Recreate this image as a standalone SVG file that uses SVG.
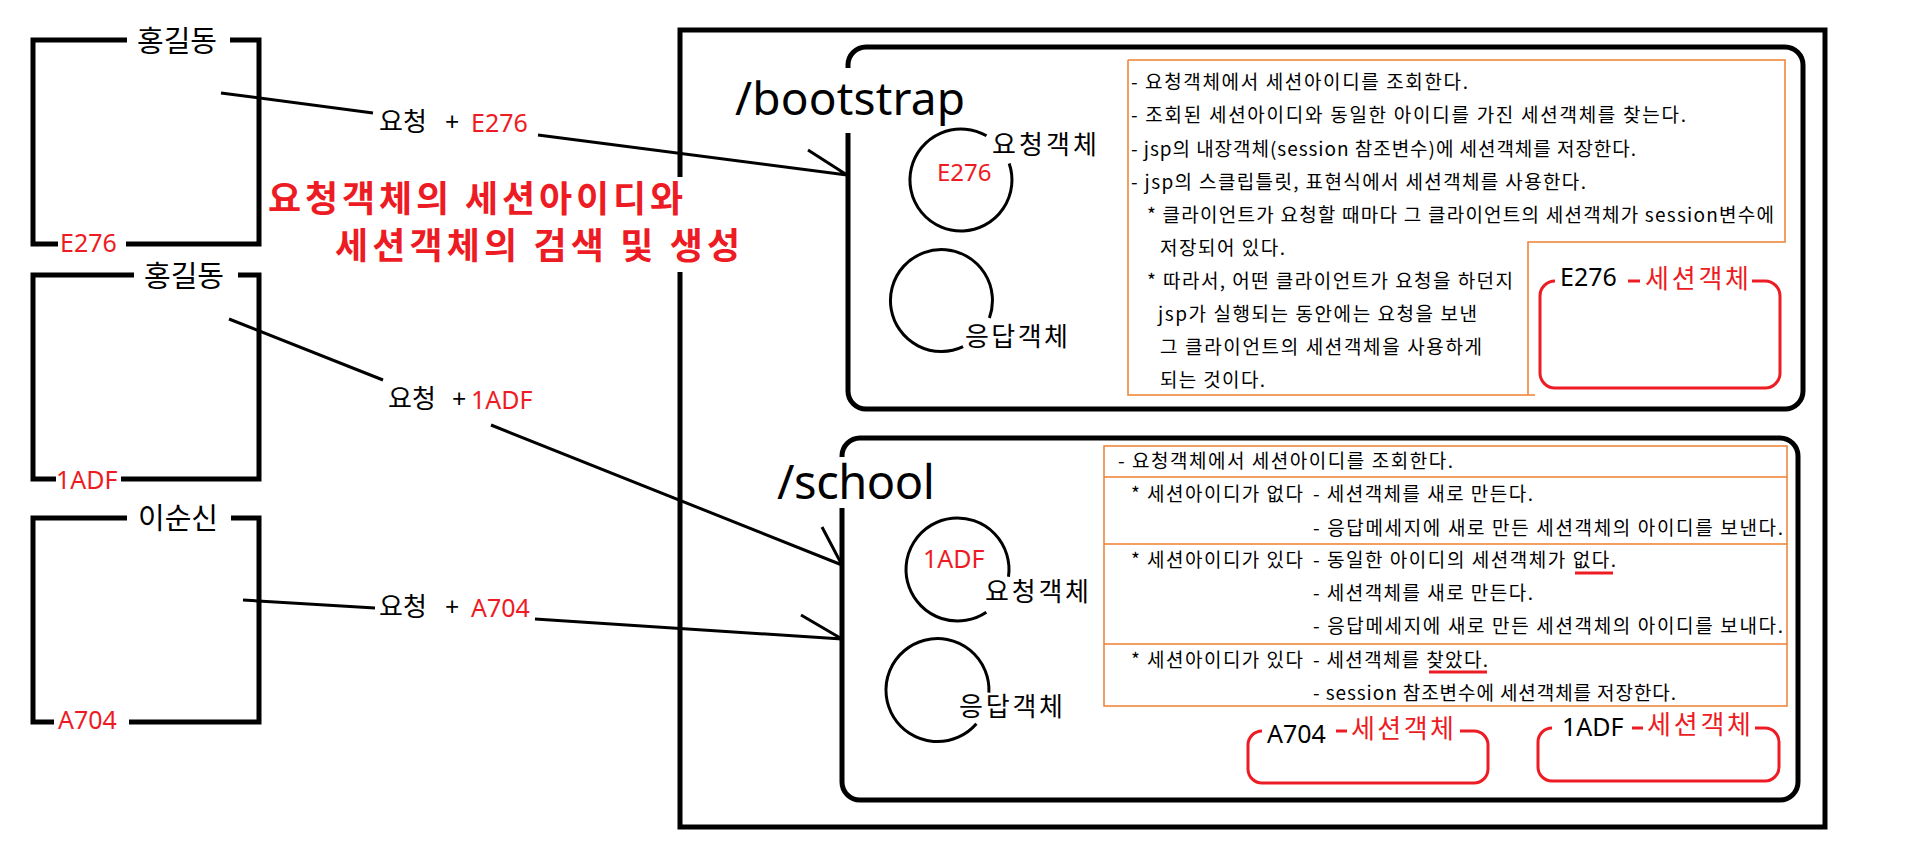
<svg xmlns="http://www.w3.org/2000/svg" width="1905" height="861" viewBox="0 0 1905 861">
<style>
.k{font-family:'Noto Sans CJK KR','Noto Sans',sans-serif;fill:#000}
.l{font-family:'Noto Sans','Noto Sans CJK KR',sans-serif;fill:#000}
.red{fill:#ED1C24}
.frame{fill:none;stroke:#000;stroke-width:5;stroke-linejoin:miter}
.conn{fill:none;stroke:#000;stroke-width:3}
.circ{fill:none;stroke:#000;stroke-width:3}
.sess{fill:none;stroke:#ED1C24;stroke-width:3}
.orange{fill:none;stroke:#F08030;stroke-width:1.5}
.t{font-size:19px}
.lab{font-size:25px}
.obj{font-size:26px}
.name{font-size:29px}
</style>
<rect width="1905" height="861" fill="#fff"/>

<g id="client1">
  <path class="frame" d="M127,40 H33 V244 H58 M126,244 H259 V40 H230"/>
  <text class="k name" x="177" y="52" text-anchor="middle">홍길동</text>
  <text class="l lab red" x="60" y="252">E276</text>
</g>
<g id="client2">
  <path class="frame" d="M134,275 H33 V479 H56 M121,479 H259 V275 H238"/>
  <text class="k name" x="184" y="287" text-anchor="middle">홍길동</text>
  <text class="l lab red" x="56" y="489">1ADF</text>
</g>
<g id="client3">
  <path class="frame" d="M127,518 H33 V722 H54 M129,722 H259 V518 H231"/>
  <text class="k name" x="178" y="529" text-anchor="middle">이순신</text>
  <text class="l lab red" x="58" y="729">A704</text>
</g>

<g id="title">
  <text class="k red" x="268" y="212" font-size="36" font-weight="bold" textLength="415">요청객체의 세션아이디와</text>
  <text class="k red" x="335" y="259" font-size="36" font-weight="bold" textLength="405">세션객체의 검색 및 생성</text>
</g>

<g id="server">
  <path class="frame" d="M680,177 V30 H1825 V827 H680 V272"/>
</g>

<g id="bootstrap">
  <path class="frame" d="M848,133 V391 A18,18 0 0 0 866,409 H1785 A18,18 0 0 0 1803,391 V65 A18,18 0 0 0 1785,47 H866 A18,18 0 0 0 848,65 V68"/>
  <text class="l" x="735" y="115" font-size="46" textLength="230">/bootstrap</text>
  <path class="circ" d="M1009.2,163.4 A51,51 0 1 1 986.5,135.8"/>
  <text class="k obj" x="992" y="154" textLength="105">요청객체</text>
  <text class="l red" x="937" y="181" font-size="24">E276</text>
  <path class="circ" d="M963.1,346.7 A51,51 0 1 1 989.4,317.9"/>
  <text class="k obj" x="965" y="346" textLength="103">응답객체</text>
  <path class="orange" d="M1128,60 H1785 V242 H1528 V395 M1128,60 V395 H1535"/>
  <g class="k t">
    <text x="1131" y="89" textLength="337">- 요청객체에서 세션아이디를 조회한다.</text>
    <text x="1131" y="122" textLength="555">- 조회된 세션아이디와 동일한 아이디를 가진 세션객체를 찾는다.</text>
    <text x="1131" y="156" textLength="505">- jsp의 내장객체(session 참조변수)에 세션객체를 저장한다.</text>
    <text x="1131" y="189" textLength="455">- jsp의 스클립틀릿, 표현식에서 세션객체를 사용한다.</text>
    <text x="1147" y="222" textLength="627">* 클라이언트가 요청할 때마다 그 클라이언트의 세션객체가 session변수에</text>
    <text x="1160" y="255" textLength="125">저장되어 있다.</text>
    <text x="1147" y="288" textLength="366">* 따라서, 어떤 클라이언트가 요청을 하던지</text>
    <text x="1158" y="321" textLength="319">jsp가 실행되는 동안에는 요청을 보낸</text>
    <text x="1160" y="354" textLength="322">그 클라이언트의 세션객체을 사용하게</text>
    <text x="1160" y="387" textLength="105">되는 것이다.</text>
  </g>
  <g id="session-E276">
    <path class="sess" d="M1555,281 A15,15 0 0 0 1540,296 V373 A15,15 0 0 0 1555,388 H1765 A15,15 0 0 0 1780,373 V296 A15,15 0 0 0 1765,281 H1752 M1628,281 H1640"/>
    <text class="l lab" x="1560" y="286">E276</text>
    <text class="k obj red" x="1645" y="288" textLength="104">세션객체</text>
  </g>
</g>

<g id="school">
  <path class="frame" d="M842,508 V782 A18,18 0 0 0 860,800 H1780 A18,18 0 0 0 1798,782 V456 A18,18 0 0 0 1780,438 H860 A18,18 0 0 0 842,456 V457"/>
  <text class="l" x="777" y="499" font-size="47" textLength="158">/school</text>
  <path class="circ" d="M986.3,612.2 A51.5,51.5 0 1 1 1008.5,576.7"/>
  <text class="l red" x="923" y="568" font-size="25">1ADF</text>
  <text class="k obj" x="985" y="601" textLength="104">요청객체</text>
  <path class="circ" d="M976.4,723.8 A51.5,51.5 0 1 1 988.9,692.7"/>
  <text class="k obj" x="959" y="716" textLength="104">응답객체</text>
  <rect class="orange" x="1104" y="446" width="683" height="260"/>
  <path class="orange" d="M1104,477 H1787 M1104,544 H1787 M1104,644 H1787"/>
  <g class="k t">
    <text x="1118" y="468" textLength="335">- 요청객체에서 세션아이디를 조회한다.</text>
    <text x="1131" y="501" textLength="172">* 세션아이디가 없다</text>
    <text x="1313" y="501" textLength="220">- 세션객체를 새로 만든다.</text>
    <text x="1313" y="535" textLength="470">- 응답메세지에 새로 만든 세션객체의 아이디를 보낸다.</text>
    <text x="1131" y="567" textLength="172">* 세션아이디가 있다</text>
    <text x="1313" y="567" textLength="303">- 동일한 아이디의 세션객체가 없다.</text>
    <text x="1313" y="600" textLength="220">- 세션객체를 새로 만든다.</text>
    <text x="1313" y="633" textLength="470">- 응답메세지에 새로 만든 세션객체의 아이디를 보내다.</text>
    <text x="1131" y="667" textLength="172">* 세션아이디가 있다</text>
    <text x="1313" y="667" textLength="175">- 세션객체를 찾았다.</text>
    <text x="1313" y="700" textLength="363">- session 참조변수에 세션객체를 저장한다.</text>
  </g>
  <path d="M1575,573 H1613 M1429,672 H1487" stroke="#ED1C24" stroke-width="3" fill="none"/>
  <g id="session-A704">
    <path class="sess" d="M1262,731 A14,14 0 0 0 1248,745 V769 A14,14 0 0 0 1262,783 H1474 A14,14 0 0 0 1488,769 V745 A14,14 0 0 0 1474,731 H1460 M1336,731 H1347"/>
    <text class="l lab" x="1267" y="743">A704</text>
    <text class="k obj red" x="1351" y="738" textLength="103">세션객체</text>
  </g>
  <g id="session-1ADF">
    <path class="sess" d="M1552,728 A14,14 0 0 0 1538,742 V767 A14,14 0 0 0 1552,781 H1765 A14,14 0 0 0 1779,767 V742 A14,14 0 0 0 1765,728 H1755 M1632,728 H1643"/>
    <text class="l lab" x="1562" y="736">1ADF</text>
    <text class="k obj red" x="1647" y="734" textLength="104">세션객체</text>
  </g>
</g>

<g id="connectors">
  <path class="conn" d="M221,93 L373,113 M538,135 L847,175 M808,150 L847,175"/>
  <text class="k obj" x="379" y="131">요청</text>
  <text class="l lab" x="445" y="131">+</text>
  <text class="l lab red" x="471" y="132">E276</text>
  <path class="conn" d="M229,319 L383,380 M491,425 L842,565 M822,527 L842,565"/>
  <text class="k obj" x="388" y="408">요청</text>
  <text class="l lab" x="452" y="408">+</text>
  <text class="l lab red" x="471" y="409">1ADF</text>
  <path class="conn" d="M243,600 L375,608 M535,619 L842,639 M801,615 L842,639"/>
  <text class="k obj" x="379" y="616">요청</text>
  <text class="l lab" x="445" y="616">+</text>
  <text class="l lab red" x="471" y="617">A704</text>
</g>
</svg>
